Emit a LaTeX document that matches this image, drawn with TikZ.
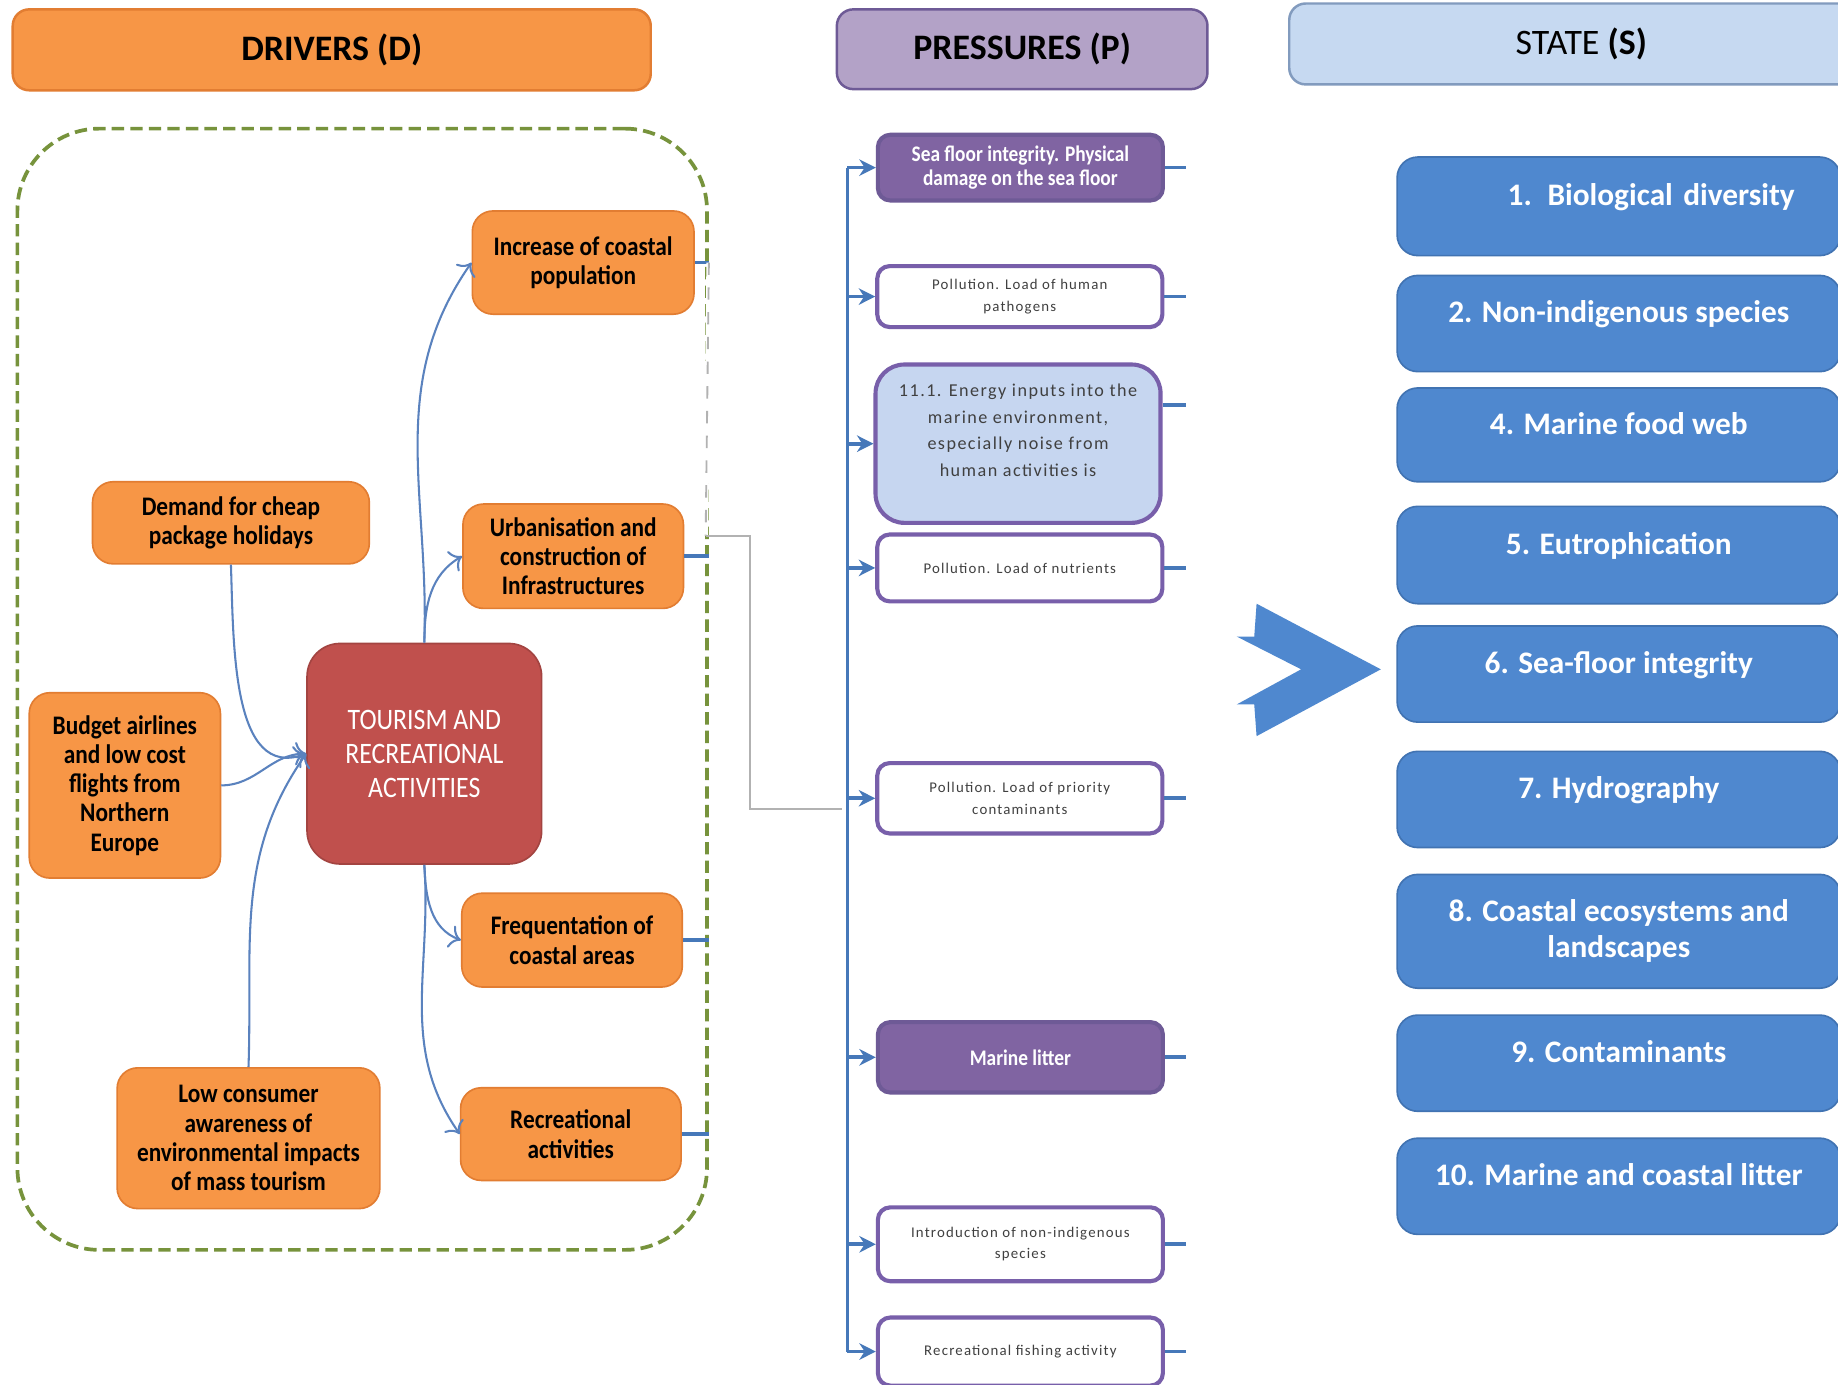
\documentclass[tikz,border=0pt]{standalone}
\usepackage{fontspec}
\setmainfont{Carlito}
\newfontfamily\narrowfont[FakeStretch=0.87]{Carlito}
\newfontfamily\spacedfont[LetterSpace=8]{Carlito}
\usetikzlibrary{calc, arrows.meta}
\definecolor{drvorange}{RGB}{247,150,70}
\definecolor{drvedge}{RGB}{226,125,50}
\definecolor{tourred}{RGB}{192,80,77}
\definecolor{prslilac}{RGB}{179,162,199}
\definecolor{prsedge}{RGB}{110,90,150}
\definecolor{prsdark}{RGB}{128,100,162}
\definecolor{prsline}{RGB}{120,95,170}
\definecolor{energyblue}{RGB}{198,214,240}
\definecolor{stlight}{RGB}{198,217,241}
\definecolor{stedge}{RGB}{130,155,190}
\definecolor{stblue}{RGB}{79,136,207}
\definecolor{stblueedge}{RGB}{65,115,178}
\definecolor{busblue}{RGB}{70,120,185}
\definecolor{linkblue}{RGB}{90,130,190}
\definecolor{framegreen}{RGB}{119,147,60}

\begin{document}
\begin{tikzpicture}[x=0.01cm, y=-0.01cm,
    header/.style={draw, rounded corners=4pt, line width=0.6pt, font=\fontsize{8.7}{10}\selectfont\bfseries},
    drv/.style={draw=drvedge, fill=drvorange, rounded corners=5pt, line width=0.4pt, inner sep=1pt, align=center,
        font=\narrowfont\fontsize{6.5}{7.1}\selectfont\bfseries},
    tourbox/.style={draw=tourred!85!black, fill=tourred, rounded corners=8pt, line width=0.4pt, text=white, align=center,
        font=\narrowfont\fontsize{7.2}{8.25}\selectfont},
    frame/.style={draw=framegreen, line width=0.9pt, dash pattern=on 3pt off 1.5pt, rounded corners=0.7cm},
    link/.style={draw=linkblue, line width=0.5pt, ->},
    stub/.style={draw=busblue, line width=0.9pt},
    gline/.style={draw=gray!60, line width=0.45pt},
    pbox/.style={draw=prsline, line width=1pt, rounded corners=3pt, minimum width=2.43cm, inner sep=1pt, align=center},
    pdark/.style={pbox, draw=prsedge, fill=prsdark, text=white, font=\narrowfont\fontsize{5.4}{5.7}\selectfont\bfseries},
    plight/.style={pbox, fill=white, text=black!75, font=\spacedfont\fontsize{3.6}{5.2}\selectfont},
    penergy/.style={pbox, fill=energyblue, rounded corners=7pt, text=black!75, font=\spacedfont\fontsize{4.4}{6.5}\selectfont},
    bus/.style={draw=busblue, line width=0.9pt},
    sbox/.style={draw=stblueedge, fill=stblue, line width=0.4pt, rounded corners=5pt, minimum width=3.78cm, text=white,
        align=center, font=\fontsize{7.6}{8.8}\selectfont\bfseries},
    one/.style={text height=0.19cm, text depth=0.2cm},
    chev/.style={fill=stblue}]

\fill[white] (0,0) rectangle (1568,1181);
\useasboundingbox (0,0) rectangle (1568,1181);

\node[header, fill=drvorange, draw=drvedge, minimum width=5.44cm, minimum height=0.69cm] (hd) at (283,42.5) {DRIVERS (D)};
\node[header, fill=prslilac, draw=prsedge, minimum width=3.16cm, minimum height=0.68cm] (hp) at (872,42) {PRESSURES (P)};
\node[header, fill=stlight, draw=stedge, minimum width=4.98cm, minimum height=0.69cm,
    font=\fontsize{8.7}{10}\selectfont] (hs) at (1349,37.5) {STATE \textbf{(S)}};

\node[frame, minimum width=5.88cm, minimum height=9.56cm] (dbox) at (309,588) {};
\coordinate (g1) at (602,457);
\coordinate (g2) at (718,690);

\node[drv, minimum width=1.89cm, minimum height=0.88cm] (inc) at (497.5,224) {Increase of coastal\\population};
\node[drv, minimum width=1.88cm, minimum height=0.89cm] (urb) at (489,474.5) {Urbanisation and\\construction of\\Infrastructures};
\node[drv, minimum width=2.36cm, minimum height=0.70cm] (dem) at (197,446) {Demand for cheap\\package holidays};
\node[drv, minimum width=1.63cm, minimum height=1.58cm] (bud) at (106.5,670) {Budget airlines\\and low cost\\flights from\\Northern\\Europe};
\node[tourbox, minimum width=2.00cm, minimum height=1.88cm] (tour) at (362,643) {TOURISM AND\\RECREATIONAL\\ACTIVITIES};
\node[drv, minimum width=1.88cm, minimum height=0.80cm] (fre) at (488,802) {Frequentation of\\coastal areas};
\node[drv, minimum width=1.88cm, minimum height=0.79cm] (rec) at (487,967.5) {Recreational\\activities};
\node[drv, minimum width=2.24cm, minimum height=1.20cm] (low) at (212,971) {Low consumer\\awareness of\\environmental impacts\\of mass tourism};

\draw[link] (dem.south) to[out=-88, in=200] (tour.west);
\draw[link] (bud.east) to[out=0, in=180] (tour.west);
\draw[link] (low.north) to[out=88, in=235] (tour.west);
\draw[link] (tour.north) to[out=88, in=235] (inc.west);
\draw[link] (tour.north) to[out=90, in=210] (urb.west);
\draw[link] (tour.south) to[out=-88, in=160] (fre.west);
\draw[link] (tour.south) to[out=-86, in=125] (rec.west);

\foreach \d in {inc,urb,fre,rec}
    \draw[stub] (\d.east) -- (\d.east -| dbox.east);

\draw[white, line width=1.2pt] (inc.east -| dbox.east) -- (g1);
\draw[gline, dashed] (inc.east -| dbox.east) -- (g1);
\draw[gline] (g1) -- ++(38,0) |- (g2);

\node[pdark, minimum height=0.56cm] (p1) at (870.5,143) {Sea floor integrity. Physical\\damage on the sea floor};
\node[plight, minimum height=0.52cm] (p2) at (870,253) {Pollution. Load of human\\pathogens};
\node[penergy, minimum height=1.35cm] (p3) at (868.5,378.5) {11.1. Energy inputs into the\\marine environment,\\especially noise from\\human activities is\\\mbox{}};
\node[plight, minimum height=0.57cm] (p4) at (870,484.5) {Pollution. Load of nutrients};
\node[plight, minimum height=0.60cm] (p5) at (870,681) {Pollution. Load of priority\\contaminants};
\node[pdark, minimum height=0.60cm] (p6) at (870.5,902) {Marine litter};
\node[plight, minimum height=0.63cm] (p7) at (870.5,1061.5) {Introduction of non-indigenous\\species};
\node[plight, minimum height=0.58cm] (p8) at (870.5,1153) {Recreational fishing activity};

\coordinate (bt) at (723,143);
\coordinate (bb) at (723,1153);
\coordinate (rs) at (1012,0);
\coordinate (e3) at ($(p3.north east)!0.26!(p3.south east)$);
\draw[bus] (bt) -- (bb);
\foreach \p in {p1,p2,p3,p4,p5,p6,p7,p8}
    \draw[bus, -{Stealth[length=4pt, width=4pt]}] (\p.west -| bt) -- (\p.west);
\foreach \p in {p1,p2,p4,p5,p6,p7,p8}
    \draw[bus] (\p.east) -- (\p.east -| rs);
\draw[bus] (e3) -- (e3 -| rs);

\fill[chev] (1072,515) -- (1178,571) -- (1072,628) -- (1070,601) -- (1055,601) -- (1110,571)
    -- (1055,543) -- (1070,543) -- cycle;

\node[sbox, one, minimum height=0.84cm, text width=3.0cm, align=right] (st1) at (1381,176) {1. Biological diversity};
\node[sbox, one, minimum height=0.82cm] (st2) at (1381,276) {2. Non-indigenous species};
\node[sbox, one, minimum height=0.80cm] (st4) at (1381,371) {4. Marine food web};
\node[sbox, one, minimum height=0.83cm] (st5) at (1381,473.5) {5. Eutrophication};
\node[sbox, one, minimum height=0.82cm] (st6) at (1381,575) {6. Sea-floor integrity};
\node[sbox, one, minimum height=0.82cm] (st7) at (1381,682) {7. Hydrography};
\node[sbox, minimum height=0.97cm] (st8) at (1381,794.5) {8. Coastal ecosystems and\\landscapes};
\node[sbox, one, minimum height=0.82cm] (st9) at (1381,907) {9. Contaminants};
\node[sbox, one, minimum height=0.82cm] (st10) at (1381,1012) {10. Marine and coastal litter};
\end{tikzpicture}
\end{document}
